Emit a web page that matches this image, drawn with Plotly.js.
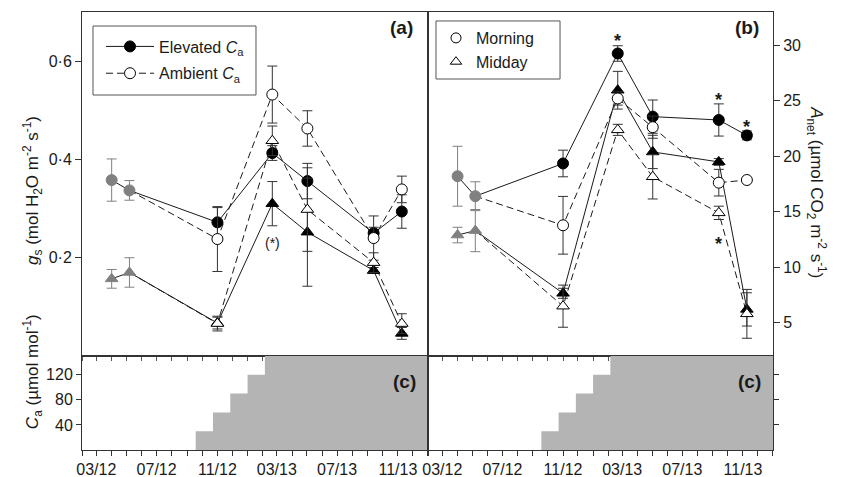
<!DOCTYPE html>
<html>
<head>
<meta charset="utf-8">
<script src="https://cdn.plot.ly/plotly-3.0.1.min.js"></script>
<style>html,body{margin:0;padding:0;background:#fff;}#chart{width:843px;height:477px;}</style>
</head>
<body>
<div id="chart"></div>
<script>
// ---------- data ----------
const preDates = ['2012-04-01', '2012-05-07'];
const dates = ['2012-11-01', '2013-02-20', '2013-05-02', '2013-09-13', '2013-11-09'];

// (a) stomatal conductance g_s
const gsPreMorning = [0.358, 0.337];
const gsPreMorningErr = [0.043, 0.020];
const gsPreMidday = [0.157, 0.170];
const gsPreMiddayErr = [0.019, 0.030];
const gsElevMorning = [0.272, 0.413, 0.356, 0.250, 0.294];
const gsElevMorningErr = [0.030, 0.015, 0.036, 0.012, 0.034];
const gsAmbMorning = [0.238, 0.532, 0.463, 0.240, 0.339];
const gsAmbMorningErr = [0.066, 0.058, 0.036, 0.045, 0.027];
const gsElevMidday = [0.067, 0.310, 0.252, 0.174, 0.046];
const gsElevMiddayErr = [0.012, 0.045, 0.110, 0.006, 0.012];
const gsAmbMidday = [0.066, 0.438, 0.298, 0.190, 0.066];
const gsAmbMiddayErr = [0.015, 0.030, 0.085, 0.020, 0.020];

// (b) net assimilation A_net
const anPreMorning = [18.2, 16.4];
const anPreMorningErr = [2.7, 1.3];
const anPreMidday = [12.9, 13.3];
const anPreMiddayErr = [0.7, 1.9];
const anElevMorning = [19.35, 29.26, 23.57, 23.27, 21.88];
const anElevMorningErr = [1.2, 0.7, 1.5, 1.45, 0.4];
const anAmbMorning = [13.78, 25.21, 22.62, 17.62, 17.86];
const anAmbMorningErr = [2.6, 0.6, 1.0, 1.2, 0];
const anElevMidday = [7.65, 25.95, 20.39, 19.49, 6.2];
const anElevMiddayErr = [0.45, 1.7, 1.5, 0.3, 1.5];
const anAmbMidday = [6.49, 22.38, 18.15, 14.9, 5.8];
const anAmbMiddayErr = [1.9, 0.5, 2.0, 0.6, 2.2];

// (c) CO2 enrichment ramp (C_a above ambient)
const caDates = ['2012-09-18', '2012-10-23', '2012-11-27', '2013-01-01', '2013-02-05', '2014-01-31'];
const caValues = [30, 60, 90, 120, 150, 150];

// tick labels
const gsTickVals = [0.2, 0.4, 0.6];
const gsTickText = ['0·2', '0·4', '0·6'];
const caTickVals = [40, 80, 120];

// ---------- styling ----------
const FONT = 'Liberation Sans, Arial, sans-serif';
const INK = '#1a1a1a';
const GRAY = '#808080';
const DASH = '7px,4px';
const MS = 11;

function lineTrace(xa, ya, x, y, dashed) {
  return {type: 'scatter', mode: 'lines', x: x, y: y, xaxis: xa, yaxis: ya,
    line: {color: INK, width: 1, dash: dashed ? DASH : 'solid'}, showlegend: false, hoverinfo: 'skip'};
}
function markTrace(xa, ya, x, y, err, symbol, fill, lineCol) {
  return {type: 'scatter', mode: 'markers', x: x, y: y, xaxis: xa, yaxis: ya,
    marker: {symbol: symbol, size: MS, color: fill, line: {color: lineCol, width: 1}},
    error_y: {type: 'data', array: err, visible: true, color: lineCol === GRAY ? GRAY : '#333', thickness: 1, width: 5},
    showlegend: false, hoverinfo: 'skip'};
}
function panel(xa, ya, pM, pME, pD, pDE, eM, eME, aM, aME, eD, eDE, aD, aDE) {
  return [
    lineTrace(xa, ya, preDates.concat(dates), pM.concat(eM), false),
    lineTrace(xa, ya, [preDates[1]].concat(dates), [pM[1]].concat(aM), true),
    lineTrace(xa, ya, preDates.concat(dates), pD.concat(eD), false),
    lineTrace(xa, ya, [preDates[1]].concat(dates), [pD[1]].concat(aD), true),
    markTrace(xa, ya, preDates, pM, pME, 'circle', GRAY, GRAY),
    markTrace(xa, ya, preDates, pD, pDE, 'triangle-up', GRAY, GRAY),
    markTrace(xa, ya, dates, eM, eME, 'circle', 'black', 'black'),
    markTrace(xa, ya, dates, eD, eDE, 'triangle-up', 'black', 'black'),
    markTrace(xa, ya, dates, aM, aME, 'circle', 'white', 'black'),
    markTrace(xa, ya, dates, aD, aDE, 'triangle-up', 'white', 'black')
  ];
}

const traces = [].concat(
  panel('x', 'y', gsPreMorning, gsPreMorningErr, gsPreMidday, gsPreMiddayErr,
        gsElevMorning, gsElevMorningErr, gsAmbMorning, gsAmbMorningErr,
        gsElevMidday, gsElevMiddayErr, gsAmbMidday, gsAmbMiddayErr),
  panel('x2', 'y2', anPreMorning, anPreMorningErr, anPreMidday, anPreMiddayErr,
        anElevMorning, anElevMorningErr, anAmbMorning, anAmbMorningErr,
        anElevMidday, anElevMiddayErr, anAmbMidday, anAmbMiddayErr)
);

// CO2 ramp fills
['x3', 'x4'].forEach(function (xa, i) {
  traces.push({type: 'scatter', mode: 'lines', x: caDates, y: caValues, xaxis: xa, yaxis: i ? 'y4' : 'y3',
    line: {shape: 'hv', width: 0, color: '#b4b4b4'}, fill: 'tozeroy', fillcolor: '#b4b4b4',
    showlegend: false, hoverinfo: 'skip'});
});

// legend entries
traces.push({type: 'scatter', mode: 'lines+markers', x: [null], y: [null], xaxis: 'x', yaxis: 'y',
  name: 'Elevated <i>C</i><sub>a</sub>', legend: 'legend', legendgroup: 'e',
  line: {color: INK, width: 1}, marker: {symbol: 'circle', size: MS, color: 'black', line: {color: 'black', width: 1}}});
traces.push({type: 'scatter', mode: 'lines+markers', x: [null], y: [null], xaxis: 'x', yaxis: 'y',
  name: 'Ambient <i>C</i><sub>a</sub>', legend: 'legend', legendgroup: 'a',
  line: {color: INK, width: 1, dash: DASH}, marker: {symbol: 'circle', size: MS, color: 'white', line: {color: 'black', width: 1}}});
traces.push({type: 'scatter', mode: 'markers', x: [null], y: [null], xaxis: 'x2', yaxis: 'y2',
  name: 'Morning', legend: 'legend2',
  marker: {symbol: 'circle', size: 10, color: 'white', line: {color: 'black', width: 1}}});
traces.push({type: 'scatter', mode: 'markers', x: [null], y: [null], xaxis: 'x2', yaxis: 'y2',
  name: 'Midday', legend: 'legend2',
  marker: {symbol: 'triangle-up', size: 10, color: 'white', line: {color: 'black', width: 1}}});

// ---------- layout ----------
const XR = ['2012-02-01', '2014-01-01'];
const XL = 0.50072, YB = 0.2146;
const tickFont = {family: FONT, size: 16, color: INK};
const titleFont = {family: FONT, size: 17, color: INK};
const legFont = {family: FONT, size: 16, color: INK};
const labFont = {family: FONT, size: 19, color: INK};
const starFont = {family: FONT, size: 18, color: INK};

function topX(dom, anchor) {
  return {domain: dom, anchor: anchor, type: 'date', range: XR, showticklabels: false,
    tick0: '2012-02-01', dtick: 'M1', ticks: 'outside', ticklen: 4, tickcolor: '#555',
    showline: true, mirror: true, linecolor: '#333', linewidth: 1, showgrid: false, zeroline: false, fixedrange: true};
}
function botX(dom, anchor) {
  return {domain: dom, anchor: anchor, type: 'date', range: XR, tickformat: '%m/%y',
    tick0: '2012-03-01', dtick: 'M4', ticks: 'outside', ticklen: 5, tickcolor: '#333', tickfont: tickFont,
    minor: {tick0: '2012-03-01', dtick: 'M1', ticks: 'outside', ticklen: 5, tickcolor: '#333', showgrid: false},
    showline: true, mirror: true, linecolor: '#333', linewidth: 1, showgrid: false, zeroline: false, fixedrange: true};
}

const layout = {
  width: 843, height: 477, autosize: false,
  margin: {l: 82, r: 70, t: 12, b: 27, pad: 0},
  paper_bgcolor: 'white', plot_bgcolor: 'white',
  font: {family: FONT, size: 16, color: INK},
  xaxis: topX([0, XL], 'y'),
  xaxis2: topX([XL, 1], 'y2'),
  xaxis3: botX([0, XL], 'y3'),
  xaxis4: botX([XL, 1], 'y4'),
  yaxis: {domain: [YB, 1], anchor: 'x', range: [0, 0.7], tickvals: gsTickVals, ticktext: gsTickText,
    ticks: 'outside', ticklen: 6, tickcolor: '#333', tickfont: tickFont,
    showline: true, mirror: true, linecolor: '#333', linewidth: 1, showgrid: false, zeroline: false, fixedrange: true},
  yaxis2: {domain: [YB, 1], anchor: 'x2', side: 'right', range: [2, 33], tick0: 5, dtick: 5,
    ticks: 'outside', ticklen: 6, tickcolor: '#333', tickfont: tickFont,
    showline: true, mirror: true, linecolor: '#333', linewidth: 1, showgrid: false, zeroline: false, fixedrange: true},
  yaxis3: {domain: [0, YB], anchor: 'x3', range: [0, 150], tickvals: caTickVals,
    ticks: 'outside', ticklen: 5, tickcolor: '#333', tickfont: tickFont,
    showline: true, mirror: true, linecolor: '#333', linewidth: 1, showgrid: false, zeroline: false, fixedrange: true},
  yaxis4: {domain: [0, YB], anchor: 'x4', side: 'right', range: [0, 150], tickvals: caTickVals, showticklabels: false,
    ticks: 'outside', ticklen: 5, tickcolor: '#333',
    showline: true, mirror: true, linecolor: '#333', linewidth: 1, showgrid: false, zeroline: false, fixedrange: true},
  shapes: [
    {type: 'rect', xref: 'paper', yref: 'paper', x0: 0.0159, x1: 0.2518, y0: 0.8105, y1: 0.968,
      layer: 'above', fillcolor: 'white', line: {color: '#555', width: 1}},
    {type: 'rect', xref: 'paper', yref: 'paper', x0: 0.5123, x1: 0.6918, y0: 0.847, y1: 0.9795,
      layer: 'above', fillcolor: 'white', line: {color: '#555', width: 1}}
  ],
  legend: {x: 0.0275, y: 0.960, xanchor: 'left', yanchor: 'top', bgcolor: 'rgba(0,0,0,0)',
    borderwidth: 0, font: legFont, itemwidth: 48, traceorder: 'grouped', tracegroupgap: 3},
  legend2: {x: 0.5123, y: 0.9795, xanchor: 'left', yanchor: 'top', bgcolor: 'rgba(0,0,0,0)',
    borderwidth: 0, font: legFont, itemwidth: 30},
  annotations: [
    {xref: 'paper', yref: 'paper', x: -0.0724, y: 0.5936, text: '<i>g</i><sub>s</sub> (mol H<sub>2</sub>O m<sup>-2</sup> s<sup>-1</sup>)',
      textangle: -90, showarrow: false, xanchor: 'center', yanchor: 'middle', font: titleFont},
    {xref: 'paper', yref: 'paper', x: -0.0724, y: 0.18, text: '<i>C</i><sub>a</sub> (µmol mol<sup>-1</sup>)',
      textangle: -90, showarrow: false, xanchor: 'center', yanchor: 'middle', font: titleFont},
    {xref: 'paper', yref: 'paper', x: 1.0635, y: 0.589, text: '<i>A</i><sub>net</sub> (µmol CO<sub>2</sub> m<sup>-2</sup> s<sup>-1</sup>)',
      textangle: 90, showarrow: false, xanchor: 'center', yanchor: 'middle', font: titleFont},
    {xref: 'paper', yref: 'paper', x: 0.4819, y: 0.9635, text: '<b>(a)</b>', showarrow: false, xanchor: 'right', yanchor: 'middle', font: labFont},
    {xref: 'paper', yref: 'paper', x: 0.9826, y: 0.9635, text: '<b>(b)</b>', showarrow: false, xanchor: 'right', yanchor: 'middle', font: labFont},
    {xref: 'paper', yref: 'paper', x: 0.4863, y: 0.1575, text: '<b>(c)</b>', showarrow: false, xanchor: 'right', yanchor: 'middle', font: labFont},
    {xref: 'paper', yref: 'paper', x: 0.9855, y: 0.1575, text: '<b>(c)</b>', showarrow: false, xanchor: 'right', yanchor: 'middle', font: labFont},
    // significance marks, placed relative to the data
    {xref: 'x', yref: 'y', x: dates[1], y: gsElevMidday[1] - gsElevMiddayErr[1], yshift: -17, text: '(*)', showarrow: false, font: {family: FONT, size: 14, color: INK}},
    {xref: 'x2', yref: 'y2', x: dates[1], y: anElevMorning[1] + anElevMorningErr[1], yshift: 5, text: '<b>*</b>', showarrow: false, font: starFont},
    {xref: 'x2', yref: 'y2', x: dates[3], y: anElevMorning[3] + anElevMorningErr[3], yshift: 4, text: '<b>*</b>', showarrow: false, font: starFont},
    {xref: 'x2', yref: 'y2', x: dates[4], y: anElevMorning[4] + anElevMorningErr[4], yshift: 4, text: '<b>*</b>', showarrow: false, font: starFont},
    {xref: 'x2', yref: 'y2', x: dates[3], y: anAmbMidday[3] - anAmbMiddayErr[3], yshift: -24, text: '<b>*</b>', showarrow: false, font: starFont}
  ]
};

Plotly.newPlot('chart', traces, layout, {staticPlot: true, displayModeBar: false});
</script>
</body>
</html>
